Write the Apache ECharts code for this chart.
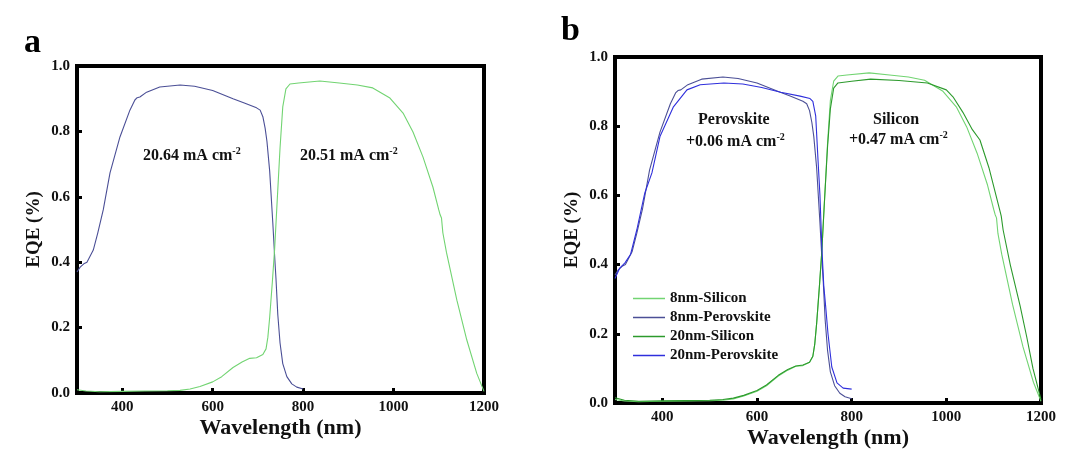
<!DOCTYPE html>
<html>
<head>
<meta charset="utf-8">
<script src="https://cdn.jsdelivr.net/npm/echarts@6/dist/echarts.min.js"></script>
<style>
  html, body { margin: 0; padding: 0; background: #fff; }
  #chart { width: 1080px; height: 455px; }
</style>
</head>
<body>
<div id="chart"></div>
<script>
// wavelength ticks / EQE ticks
const xTicks = [400, 600, 800, 1000, 1200];
const yTicks = [0, 0.2, 0.4, 0.6, 0.8, 1.0];

// 8nm perovskite (also panel a)
const perovWl8 = [300, 307, 315, 322, 336, 346, 358, 373, 395, 417, 428, 433, 439, 454, 483, 528, 560, 600, 645, 670, 697, 705, 711, 716, 720, 726, 733, 737, 740, 744, 749, 755, 764, 775, 786, 800];
const perov8 = [0.37, 0.385, 0.395, 0.40, 0.437, 0.49, 0.56, 0.673, 0.783, 0.865, 0.896, 0.903, 0.905, 0.92, 0.936, 0.942, 0.938, 0.925, 0.90, 0.887, 0.872, 0.865, 0.845, 0.81, 0.77, 0.68, 0.52, 0.42, 0.35, 0.24, 0.153, 0.09, 0.05, 0.028, 0.018, 0.012];

// 20nm perovskite
const perovWl20 = [300, 310, 321, 333, 346, 363, 378, 395, 423, 452, 480, 530, 570, 610, 650, 691, 712, 718, 724, 729, 733, 737, 741, 745, 750, 758, 769, 782, 800];
const perov20 = [0.36, 0.39, 0.405, 0.43, 0.50, 0.607, 0.665, 0.77, 0.855, 0.905, 0.92, 0.925, 0.922, 0.912, 0.898, 0.887, 0.88, 0.872, 0.83, 0.70, 0.60, 0.45, 0.34, 0.28, 0.20, 0.104, 0.058, 0.043, 0.04];

// 8nm silicon (also panel a)
const siWl8 = [300, 320, 350, 400, 450, 500, 528, 550, 572, 600, 620, 645, 665, 682, 697, 711, 718, 722, 726, 732, 737, 742, 749, 755, 762, 771, 790, 837, 880, 920, 954, 992, 1021, 1043, 1065, 1087, 1100, 1103, 1106, 1109, 1117, 1140, 1162, 1184, 1200];
const si8 = [0.01, 0.006, 0.004, 0.005, 0.006, 0.007, 0.008, 0.012, 0.02, 0.034, 0.05, 0.078, 0.095, 0.106, 0.108, 0.118, 0.135, 0.17, 0.23, 0.34, 0.44, 0.57, 0.75, 0.875, 0.93, 0.945, 0.948, 0.954, 0.948, 0.942, 0.933, 0.902, 0.856, 0.798, 0.722, 0.63, 0.56, 0.545, 0.535, 0.49, 0.43, 0.284, 0.162, 0.06, 0.005];

// 20nm silicon
const siWl20 = [300, 320, 350, 400, 450, 500, 528, 550, 572, 600, 620, 645, 665, 682, 697, 711, 718, 722, 726, 732, 737, 742, 749, 755, 762, 771, 800, 840, 900, 960, 1000, 1014, 1035, 1055, 1071, 1090, 1113, 1116, 1120, 1135, 1156, 1170, 1183, 1200];
const si20 = [0.015, 0.008, 0.005, 0.006, 0.007, 0.008, 0.01, 0.014, 0.022, 0.036, 0.052, 0.08, 0.097, 0.107, 0.11, 0.118, 0.135, 0.17, 0.23, 0.34, 0.44, 0.57, 0.74, 0.85, 0.91, 0.925, 0.93, 0.936, 0.932, 0.925, 0.905, 0.885, 0.84, 0.79, 0.76, 0.68, 0.557, 0.54, 0.50, 0.40, 0.28, 0.19, 0.10, 0.01];

const legendNames = ["8nm-Silicon", "8nm-Perovskite", "20nm-Silicon", "20nm-Perovskite"];

const FONT = "'Liberation Serif', 'Times New Roman', serif";
const C_PEROV8 = "#4b4f96";
const C_PEROV20 = "#2f2fdc";
const C_SI8 = "#72d472";
const C_SI20 = "#2c9a2c";

const zip = (xs, ys) => xs.map((x, i) => [x, ys[i]]);

let myChart = echarts.init(document.getElementById("chart"));

function xAxisOf(idx) {
  return {
    gridIndex: idx, type: "value", min: 300, max: 1200,
    name: "Wavelength (nm)", nameLocation: "middle", nameGap: 24, nameMoveOverlap: false,
    nameTextStyle: { fontFamily: FONT, fontWeight: "bold", fontSize: 22, color: "#111" },
    axisLine: { show: true, lineStyle: { color: "#000", width: 4 } },
    axisTick: { show: true, inside: true, length: 5, customValues: xTicks, lineStyle: { color: "#000", width: 3 } },
    axisLabel: { customValues: xTicks, formatter: v => String(v), fontFamily: FONT, fontWeight: "bold", fontSize: 15, color: "#111", margin: 7 },
    splitLine: { show: false }
  };
}
function yAxisOf(idx) {
  return {
    gridIndex: idx, type: "value", min: 0, max: 1, interval: 0.2,
    name: "EQE (%)", nameLocation: "middle", nameGap: 33,
    nameTextStyle: { fontFamily: FONT, fontWeight: "bold", fontSize: 19, color: "#111" },
    axisLine: { show: true, lineStyle: { color: "#000", width: 4 } },
    axisTick: { show: true, inside: true, length: 5, lineStyle: { color: "#000", width: 3 } },
    axisLabel: { formatter: v => v.toFixed(1), fontFamily: FONT, fontWeight: "bold", fontSize: 15, color: "#111", margin: 7 },
    splitLine: { show: false }
  };
}

function lineSeries(name, idx, data, color) {
  return {
    name: name, type: "line", xAxisIndex: idx, yAxisIndex: idx,
    data: data, showSymbol: false, symbol: "none",
    lineStyle: { color: color, width: 1.1 }, itemStyle: { color: color },
    emphasis: { disabled: true }, animation: false
  };
}

const annot = (left, top, text) => ({
  type: "text", left: left, top: top,
  style: {
    text: text, fill: "#111",
    rich: {
      n: { fontFamily: FONT, fontWeight: "bold", fontSize: 16, lineHeight: 20 },
      s: { fontFamily: FONT, fontWeight: "bold", fontSize: 10, verticalAlign: "top" }
    }
  }
});

let option = {
  backgroundColor: "#fff",
  animation: false,
  grid: [
    { left: 77, top: 66, width: 407, height: 327, outerBoundsMode: "none", show: true, borderColor: "#000", borderWidth: 4 },
    { left: 615, top: 57, width: 426, height: 346, outerBoundsMode: "none", show: true, borderColor: "#000", borderWidth: 4 }
  ],
  xAxis: [xAxisOf(0), xAxisOf(1)],
  yAxis: [yAxisOf(0), yAxisOf(1)],
  legend: {
    data: legendNames, orient: "vertical", left: 628, top: 286,
    icon: "rect", itemWidth: 32, itemHeight: 1.5, itemGap: 4,
    textStyle: { fontFamily: FONT, fontWeight: "bold", fontSize: 15, lineHeight: 15, color: "#111" }
  },
  series: [
    lineSeries("a-Perovskite", 0, zip(perovWl8, perov8), C_PEROV8),
    lineSeries("a-Silicon", 0, zip(siWl8, si8), C_SI8),
    lineSeries("8nm-Silicon", 1, zip(siWl8, si8), C_SI8),
    lineSeries("8nm-Perovskite", 1, zip(perovWl8, perov8), C_PEROV8),
    lineSeries("20nm-Silicon", 1, zip(siWl20, si20), C_SI20),
    lineSeries("20nm-Perovskite", 1, zip(perovWl20, perov20), C_PEROV20)
  ],
  graphic: [
    { type: "text", left: 24, top: 26, style: { text: "a", fontFamily: FONT, fontWeight: "bold", fontSize: 34, fill: "#000" } },
    { type: "text", left: 561, top: 14, style: { text: "b", fontFamily: FONT, fontWeight: "bold", fontSize: 34, fill: "#000" } },
    annot(143, 146, "{n|20.64 mA cm}{s|-2}"),
    annot(300, 146, "{n|20.51 mA cm}{s|-2}"),
    { type: "text", left: 698, top: 112, style: { text: "Perovskite", fontFamily: FONT, fontWeight: "bold", fontSize: 16, fill: "#111" } },
    annot(686, 132, "{n|+0.06 mA cm}{s|-2}"),
    { type: "text", left: 873, top: 112, style: { text: "Silicon", fontFamily: FONT, fontWeight: "bold", fontSize: 16, fill: "#111" } },
    annot(849, 130, "{n|+0.47 mA cm}{s|-2}")
  ]
};
myChart.setOption(option);
window.addEventListener("resize", () => myChart.resize(), false);
</script>
</body>
</html>
